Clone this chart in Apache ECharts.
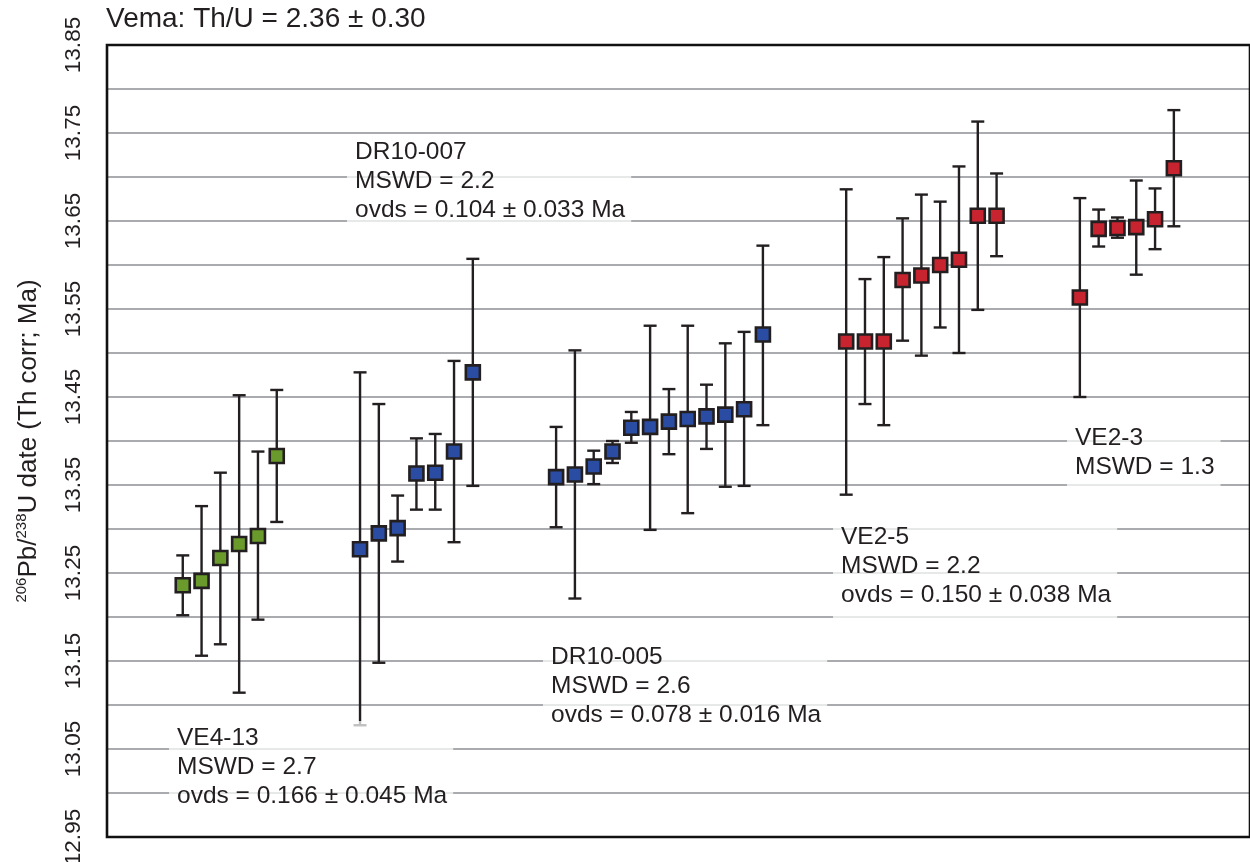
<!DOCTYPE html>
<html>
<head>
<meta charset="utf-8">
<script src="https://cdn.jsdelivr.net/npm/echarts@6/dist/echarts.min.js"></script>
<style>
  html, body { margin: 0; padding: 0; background: #fff; }
  #main { width: 1250px; height: 862px; }
</style>
</head>
<body>
<div id="main"></div>
<script>
  // sample groups, left to right
  const groupNames = ['VE4-13', 'DR10-007', 'DR10-005', 'VE2-5', 'VE2-3'];
  const groupColors = ['#6a9a2c', '#2a4ca3', '#2a4ca3', '#c8242f', '#c8242f'];

  // 206Pb/238U dates (Ma) and error bar ends
  const ve413Age = [13.236, 13.241, 13.267, 13.283, 13.292, 13.383];
  const ve413Lo  = [13.202, 13.156, 13.169, 13.114, 13.197, 13.308];
  const ve413Hi  = [13.270, 13.326, 13.364, 13.452, 13.388, 13.458];

  const dr007Age = [13.277, 13.295, 13.301, 13.363, 13.364, 13.388, 13.478];
  const dr007Lo  = [13.077, 13.148, 13.263, 13.322, 13.322, 13.285, 13.349];
  const dr007Hi  = [13.478, 13.442, 13.338, 13.403, 13.408, 13.491, 13.607];

  const dr005Age = [13.359, 13.362, 13.371, 13.388, 13.415, 13.416, 13.422, 13.425, 13.428, 13.430, 13.436, 13.521];
  const dr005Lo  = [13.302, 13.221, 13.351, 13.375, 13.398, 13.299, 13.385, 13.318, 13.391, 13.348, 13.349, 13.418];
  const dr005Hi  = [13.416, 13.503, 13.389, 13.400, 13.433, 13.531, 13.459, 13.531, 13.464, 13.511, 13.524, 13.622];

  const ve25Age = [13.513, 13.513, 13.513, 13.583, 13.588, 13.600, 13.606, 13.656, 13.656];
  const ve25Lo  = [13.339, 13.442, 13.418, 13.514, 13.497, 13.529, 13.500, 13.549, 13.610];
  const ve25Hi  = [13.686, 13.584, 13.609, 13.653, 13.680, 13.672, 13.712, 13.763, 13.704];

  const ve23Age = [13.563, 13.641, 13.642, 13.643, 13.652, 13.710];
  const ve23Lo  = [13.450, 13.621, 13.631, 13.589, 13.618, 13.644];
  const ve23Hi  = [13.676, 13.663, 13.654, 13.696, 13.687, 13.776];

  const groupAges = [ve413Age, dr007Age, dr005Age, ve25Age, ve23Age];
  const groupLos  = [ve413Lo, dr007Lo, dr005Lo, ve25Lo, ve23Lo];
  const groupHis  = [ve413Hi, dr007Hi, dr005Hi, ve25Hi, ve23Hi];

  const annotations = [
    ['DR10-007', 'MSWD = 2.2', 'ovds = 0.104 \u00b1 0.033 Ma'],
    ['VE4-13', 'MSWD = 2.7', 'ovds = 0.166 \u00b1 0.045 Ma'],
    ['DR10-005', 'MSWD = 2.6', 'ovds = 0.078 \u00b1 0.016 Ma'],
    ['VE2-5', 'MSWD = 2.2', 'ovds = 0.150 \u00b1 0.038 Ma'],
    ['VE2-3', 'MSWD = 1.3']
  ];
  const annoPos = [[347, 135], [169, 721], [543, 640], [833, 520], [1067, 421]];

  const yMin = 12.95, yMax = 13.85, yStep = 0.05;
  const firstSlot = 4.03, gapSlots = 4.43, xMax = 60.8;

  const FONT = '"Liberation Sans", Arial, Helvetica, sans-serif';
  const INK = '#231f20';
  const G = { left: 107, right: 0, top: 45, bottom: 25 };

  // x positions: one slot per analysis, wider gap between samples
  let series = [];
  let barData = [];
  let start = firstSlot;
  groupAges.forEach((ages, g) => {
    const pts = ages.map((a, i) => [start + i, a]);
    ages.forEach((a, i) => barData.push([start + i, groupLos[g][i], groupHis[g][i]]));
    series.push({
      name: groupNames[g],
      type: 'scatter',
      symbol: 'rect',
      symbolSize: 14,
      z: 5,
      itemStyle: { color: groupColors[g], borderColor: INK, borderWidth: 2.6, opacity: 1 },
      data: pts
    });
    start += ages.length - 1 + gapSlots;
  });

  series.unshift({
    type: 'custom',
    z: 3,
    encode: { x: 0, y: [1, 2] },
    data: barData,
    renderItem: function (params, api) {
      const x = api.value(0);
      const lo = api.coord([x, api.value(1)]);
      const hi = api.coord([x, api.value(2)]);
      const w = 6.5;
      const st = { stroke: INK, lineWidth: 2.4 };
      return {
        type: 'group',
        children: [
          { type: 'line', shape: { x1: lo[0], y1: lo[1], x2: hi[0], y2: hi[1] }, style: st },
          { type: 'line', shape: { x1: lo[0] - w, y1: lo[1], x2: lo[0] + w, y2: lo[1] }, style: st },
          { type: 'line', shape: { x1: hi[0] - w, y1: hi[1], x2: hi[0] + w, y2: hi[1] }, style: st }
        ]
      };
    }
  });

  const graphics = annotations.map((lines, k) => ({
    type: 'text',
    x: annoPos[k][0],
    y: annoPos[k][1],
    z: 10,
    style: {
      text: lines.join('\n'),
      font: '24.5px ' + FONT,
      fill: INK,
      lineHeight: 29,
      verticalAlign: 'top',
      align: 'left',
      backgroundColor: 'rgba(255,255,255,0.72)',
      padding: [3, 6, 10, 8]
    }
  }));

  // plot frame on top of the grid lines
  graphics.push({
    type: 'rect',
    z: 20,
    silent: true,
    shape: { x: G.left, y: G.top, width: 1250 - G.left - G.right, height: 862 - G.top - G.bottom },
    style: { fill: 'none', stroke: '#111', lineWidth: 2.6 }
  });

  const chart = echarts.init(document.getElementById('main'), null, { renderer: 'canvas' });
  chart.setOption({
    animation: false,
    backgroundColor: '#fff',
    title: {
      text: 'Vema: Th/U = 2.36 \u00b1 0.30',
      left: 106,
      top: 5,
      padding: 0,
      textStyle: { fontFamily: FONT, fontSize: 28, fontWeight: 'normal', color: INK }
    },
    grid: {
      left: G.left, right: G.right, top: G.top, bottom: G.bottom,
      outerBoundsMode: 'none',
      containLabel: false,
      show: false
    },
    xAxis: {
      type: 'value', min: 0, max: xMax, show: false, splitLine: { show: false }
    },
    yAxis: {
      type: 'value',
      min: yMin, max: yMax, interval: yStep,
      axisLine: { show: false },
      axisTick: { show: false },
      splitLine: { show: true, lineStyle: { color: '#a9abae', width: 2 } },
      axisLabel: {
        rotate: 90,
        margin: 22,
        fontFamily: FONT,
        fontSize: 22.5,
        color: INK,
        showMinLabel: true,
        showMaxLabel: true,
        formatter: function (v) {
          return Math.round(v * 100) % 10 === 5 ? v.toFixed(2) : '';
        }
      },
      name: '{sup|206}Pb/{sup|238}U date (Th corr; Ma)',
      nameLocation: 'middle',
      nameRotate: 90,
      nameGap: 63,
      nameTextStyle: {
        fontFamily: FONT,
        fontSize: 26,
        color: INK,
        lineHeight: 30,
        rich: {
          sup: { fontFamily: FONT, fontSize: 15, color: INK, verticalAlign: 'top', lineHeight: 30, padding: [0, 0, 11, 0] }
        }
      }
    },
    series: series,
    graphic: graphics
  });
</script>
</body>
</html>
